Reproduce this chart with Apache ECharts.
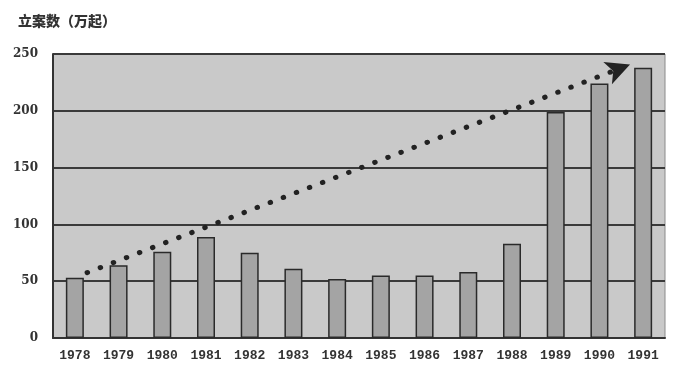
<!DOCTYPE html>
<html><head><meta charset="utf-8">
<script src="https://cdn.jsdelivr.net/npm/echarts@6/dist/echarts.min.js"></script>
<style>html,body{margin:0;padding:0;background:#fff}#c{width:673px;height:376px}</style>
</head><body><div id="c"></div>
<script>
const years = ['1978','1979','1980','1981','1982','1983','1984','1985','1986','1987','1988','1989','1990','1991'];
const cases = [53, 64, 76, 89, 75, 61, 52, 55, 55, 58, 83, 199, 224, 238];
const yTicks = [0, 50, 100, 150, 200, 250];
const trendStart = [0.28, 57.5];
const trendEnd = [12.7, 240.7];
const titleText = '立案数（万起）';

const chart = echarts.init(document.getElementById('c'), null, {renderer:'canvas'});
chart.setOption({
  animation: false,
  backgroundColor: '#ffffff',
  title: {text: titleText, left: 13, top: 9, textStyle: {fontFamily: 'Noto Sans CJK SC', fontSize: 14, fontWeight: 900, color: '#333'}},
  grid: {left: 53, right: 8, top: 54, bottom: 38, show: true, backgroundColor: '#c9c9c9', borderColor: '#8a8a8a', borderWidth: 1},
  xAxis: [{
    type: 'category', data: years, boundaryGap: true,
    axisLine: {lineStyle: {color: '#333', width: 2}},
    axisTick: {show: false},
    axisLabel: {margin: 11, fontFamily: 'Liberation Mono', fontWeight: 'bold', fontSize: 13, color: '#333'}
  }, {
    type: 'value', min: -0.5, max: 13.5, show: false
  }],
  yAxis: {
    type: 'value', min: yTicks[0], max: yTicks[yTicks.length-1], interval: 50,
    axisLine: {show: true, onZero: false, lineStyle: {color: '#333', width: 2}},
    axisTick: {show: false},
    splitLine: {lineStyle: {color: '#3a3a3a', width: 2}},
    axisLabel: {margin: 15, fontFamily: 'DejaVu Serif', fontWeight: 'bold', fontSize: 12, color: '#333'}
  },
  series: [{
    type: 'bar', data: cases, barWidth: 18, xAxisIndex: 0,
    itemStyle: {color: '#a4a4a4', borderColor: '#2a2a2a', borderWidth: 1.5}
  }, {
    type: 'line', xAxisIndex: 1, data: [trendStart, trendEnd], showSymbol: false, symbol: 'none',
    lineStyle: {opacity: 0}, silent: true, z: 5,
    markLine: {
      silent: true, symbol: ['none', 'arrow'], symbolSize: [18, 24],
      label: {show: false},
      lineStyle: {color: '#222', width: 5, type: [0.5, 13.5], cap: 'round'},
      data: [[{coord: trendStart}, {coord: trendEnd}]]
    }
  }]
});
</script></body></html>
